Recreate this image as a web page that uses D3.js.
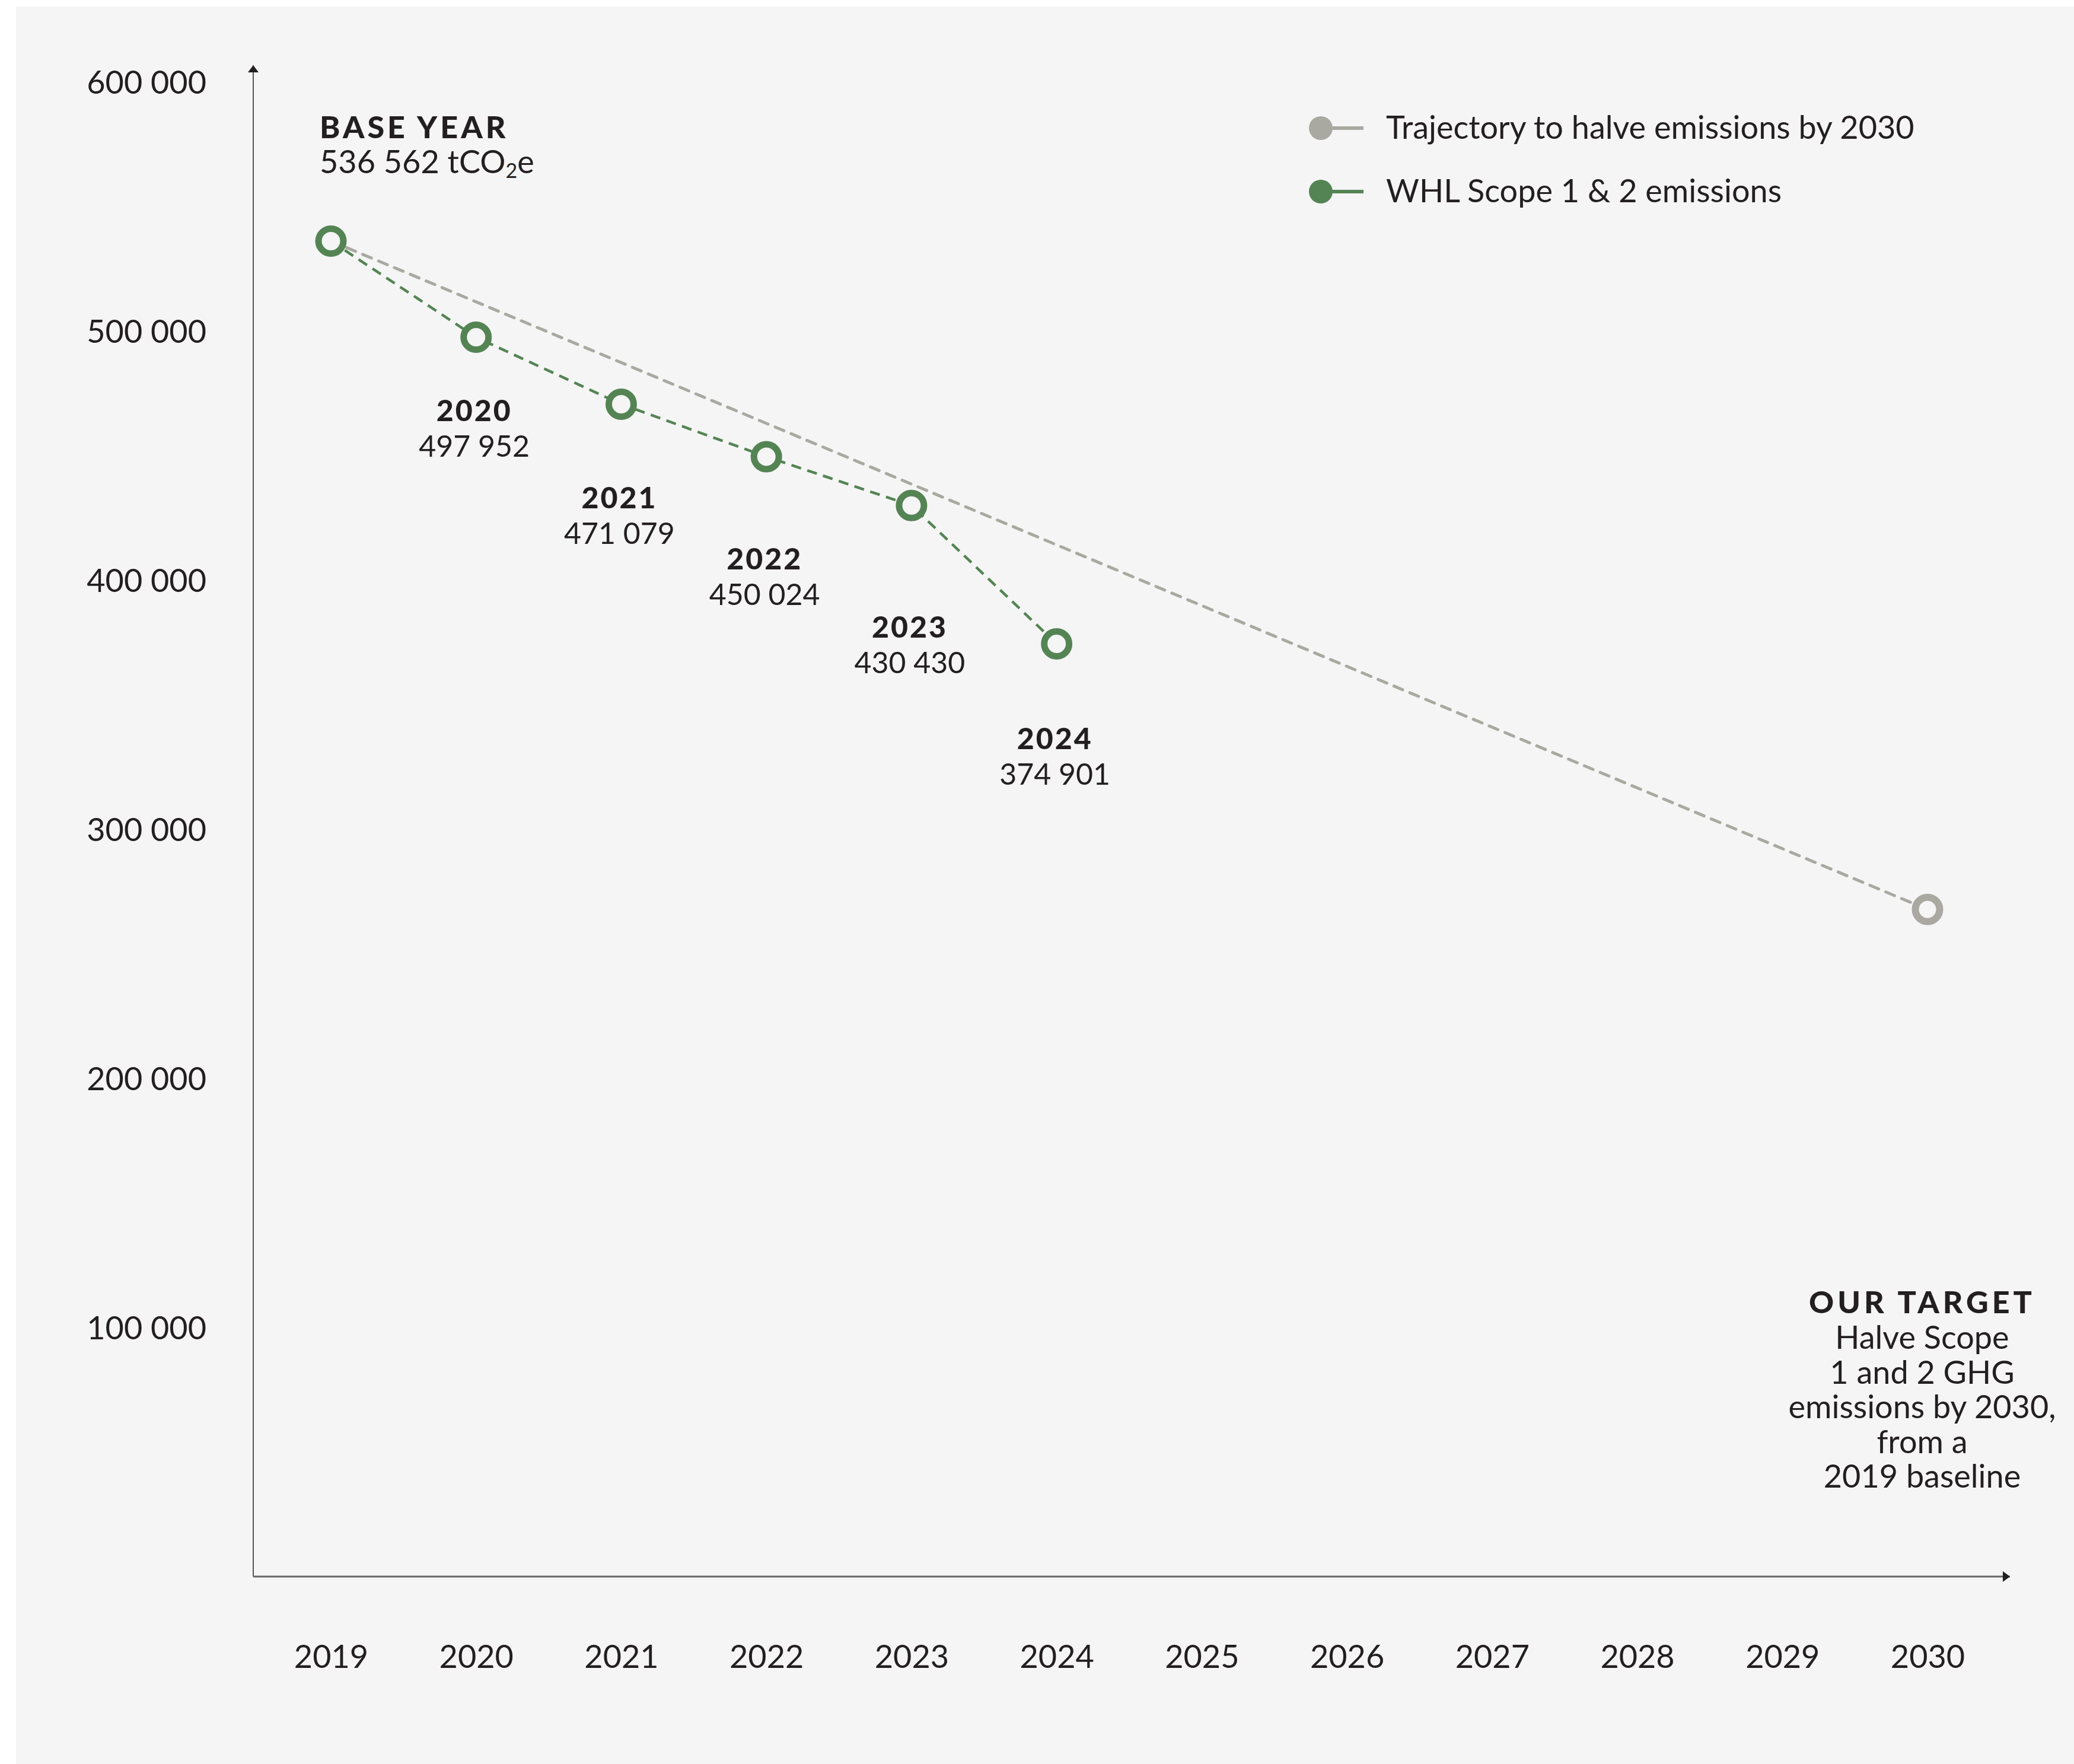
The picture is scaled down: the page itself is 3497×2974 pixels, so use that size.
<!DOCTYPE html>
<html>
<head>
<meta charset="utf-8">
<script src="https://cdn.jsdelivr.net/npm/d3@7"></script>
<style>
  html, body { margin: 0; padding: 0; background: #ffffff; }
  svg { display: block; }
  text { font-family: Lato, "Noto Sans", sans-serif; fill: #231f20; }
</style>
</head>
<body>
<svg id="chart" width="3497" height="2974"></svg>
<script>
// ---- data ----
const years = [2019, 2020, 2021, 2022, 2023, 2024, 2025, 2026, 2027, 2028, 2029, 2030];
const actualYears = [2019, 2020, 2021, 2022, 2023, 2024];
const actualValues = [536562, 497952, 471079, 450024, 430430, 374901];
const trajectoryYears = [2019, 2030];
const trajectoryValues = [536562, 268281];
const yTickValues = [100000, 200000, 300000, 400000, 500000, 600000];
const legendLabels = ["Trajectory to halve emissions by 2030", "WHL Scope 1 & 2 emissions"];
const targetTitle = "OUR TARGET";
const targetLines = ["Halve Scope", "1 and 2 GHG", "emissions by 2030,", "from a", "2019 baseline"];

// ---- layout (not data) ----
const labelDy = [141, 176, 190, 223, 178];
const GREEN = "#548454";
const GRAY = "#a9a9a2";
const BG = "#f5f5f5";

const svg = d3.select("#chart");
svg.append("rect").attr("x", 27).attr("y", 11).attr("width", 3497 - 27).attr("height", 2974 - 11).attr("fill", BG);

const x = d3.scaleLinear().domain([2019, 2030]).range([558, 3250]);
const y = d3.scaleLinear().domain([0, 600000]).range([2660, 140]);
const fmt = v => d3.format(",")(v).replace(/,/g, " ");

// arrow markers
const defs = svg.append("defs");
defs.append("marker").attr("id", "arrowUp").attr("viewBox", "0 0 18 12").attr("refX", 9).attr("refY", 0)
  .attr("markerWidth", 18).attr("markerHeight", 12).attr("markerUnits", "userSpaceOnUse").attr("orient", "0")
  .append("path").attr("d", "M0,12 L9,0 L18,12 Z").attr("fill", "#231f20");
defs.append("marker").attr("id", "arrowRight").attr("viewBox", "0 0 12 18").attr("refX", 12).attr("refY", 9)
  .attr("markerWidth", 12).attr("markerHeight", 18).attr("markerUnits", "userSpaceOnUse").attr("orient", "0")
  .append("path").attr("d", "M0,0 L12,9 L0,18 Z").attr("fill", "#231f20");

const axisX0 = 427, axisY0 = 2658;
// y axis line
svg.append("line").attr("x1", axisX0).attr("y1", axisY0).attr("x2", axisX0).attr("y2", 110)
  .attr("stroke", "#555").attr("stroke-width", 2).attr("marker-end", "url(#arrowUp)");
// x axis line
svg.append("line").attr("x1", axisX0).attr("y1", axisY0).attr("x2", 3389).attr("y2", axisY0)
  .attr("stroke", "#666").attr("stroke-width", 3).attr("marker-end", "url(#arrowRight)");

// y axis ticks
const yAxis = d3.axisLeft(y).tickValues(yTickValues).tickSize(0).tickPadding(79).tickFormat(fmt);
const gy = svg.append("g").attr("transform", `translate(${axisX0},0)`).call(yAxis);
gy.select(".domain").remove();
gy.selectAll("text").style("font-size", "54px").style("font-family", "Lato, 'Noto Sans', sans-serif").attr("fill", "#231f20");

// x axis ticks
const xAxis = d3.axisBottom(x).tickValues(years).tickSize(0).tickPadding(0).tickFormat(d3.format("d"));
const gx = svg.append("g").attr("transform", `translate(0,${axisY0})`).call(xAxis);
gx.select(".domain").remove();
gx.selectAll("text").style("font-size", "54px").style("font-family", "Lato, 'Noto Sans', sans-serif")
  .attr("fill", "#231f20").attr("dy", null).attr("y", 154);

// trajectory line
const trajData = trajectoryYears.map((yr, i) => ({ yr, v: trajectoryValues[i] }));
const line = d3.line().x(d => x(d.yr)).y(d => y(d.v));
svg.append("path").datum(trajData).attr("d", line).attr("fill", "none")
  .attr("stroke", GRAY).attr("stroke-width", 5).attr("stroke-dasharray", "16 13").attr("stroke-linecap", "round");

// actual line
const actData = actualYears.map((yr, i) => ({ yr, v: actualValues[i] }));
svg.append("path").datum(actData).attr("d", line).attr("fill", "none")
  .attr("stroke", GREEN).attr("stroke-width", 4.5).attr("stroke-dasharray", "17 11");

// trajectory end marker
svg.selectAll(".tmark").data(trajData.slice(1)).enter().append("circle")
  .attr("cx", d => x(d.yr)).attr("cy", d => y(d.v)).attr("r", 20.5)
  .attr("fill", BG).attr("stroke", GRAY).attr("stroke-width", 12);

// actual markers
svg.selectAll(".amark").data(actData).enter().append("circle")
  .attr("cx", d => x(d.yr)).attr("cy", d => y(d.v)).attr("r", 21)
  .attr("fill", BG).attr("stroke", GREEN).attr("stroke-width", 11);

// point annotations (2020-2024)
actData.slice(1).forEach((d, i) => {
  const cx = x(d.yr) - 3, by = y(d.v) + labelDy[i];
  svg.append("text").attr("x", cx).attr("y", by).attr("text-anchor", "middle")
    .style("font-size", "50px").style("font-weight", 900).style("letter-spacing", "3px").text(d.yr);
  svg.append("text").attr("x", cx).attr("y", by + 60).attr("text-anchor", "middle")
    .style("font-size", "50px").style("font-weight", 400).text(fmt(d.v));
});

// base year annotation
const b = actData[0];
svg.append("text").attr("x", x(b.yr) - 19).attr("y", y(b.v) - 173)
  .style("font-size", "52px").style("font-weight", 900).style("letter-spacing", "5px").text("BASE YEAR");
const bt = svg.append("text").attr("x", x(b.yr) - 19).attr("y", y(b.v) - 114)
  .style("font-size", "54px").style("font-weight", 400);
bt.append("tspan").text(fmt(b.v) + " tCO");
bt.append("tspan").attr("dy", 8).style("font-size", "34px").text("2");
bt.append("tspan").attr("dy", -8).text("e");

// target annotation
const tx = x(2030) - 9;
svg.append("text").attr("x", tx).attr("y", 2214).attr("text-anchor", "middle")
  .style("font-size", "52px").style("font-weight", 900).style("letter-spacing", "6px").text(targetTitle);
targetLines.forEach((t, i) => {
  svg.append("text").attr("x", tx).attr("y", 2274 + i * 58.5).attr("text-anchor", "middle")
    .style("font-size", "54px").style("font-weight", 400).text(t);
});

// legend
const legendColors = [GRAY, GREEN];
legendLabels.forEach((lab, i) => {
  const ly = 216 + i * 107;
  const g = svg.append("g");
  g.append("line").attr("x1", 2227).attr("x2", 2299).attr("y1", ly).attr("y2", ly)
    .attr("stroke", legendColors[i]).attr("stroke-width", 6);
  g.append("circle").attr("cx", 2227).attr("cy", ly).attr("r", 20).attr("fill", legendColors[i]);
  g.append("text").attr("x", 2337).attr("y", ly + 18).style("font-size", "54px").text(lab);
});
</script>
</body>
</html>
